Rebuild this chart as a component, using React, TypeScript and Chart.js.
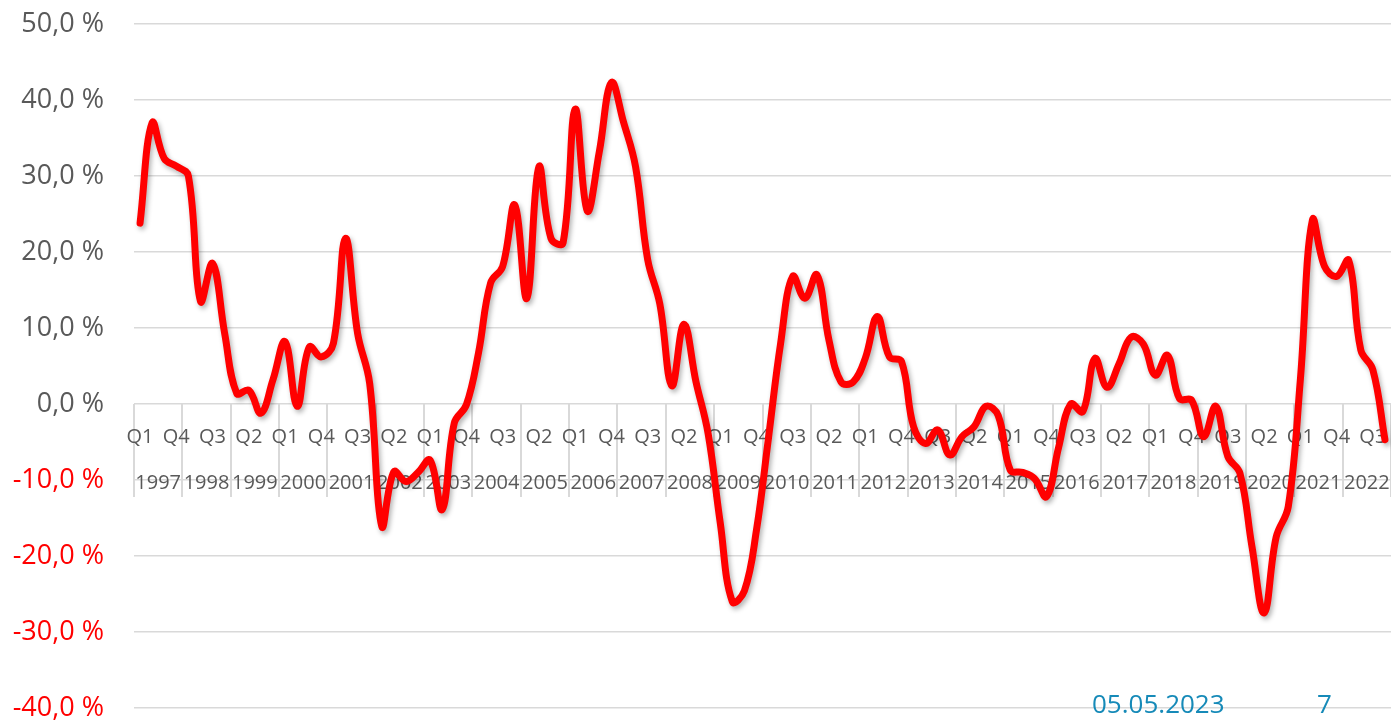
import React, { useEffect, useRef } from 'react';
import { Chart, registerables } from 'chart.js';

Chart.register(...registerables);

const YEARS = ['1997','1998','1999','2000','2001','2002','2003','2004','2005','2006','2007','2008','2009','2010','2011','2012','2013','2014','2015','2016','2017','2018','2019','2020','2021','2022'];
const QUARTERS = ['Q1', 'Q2', 'Q3', 'Q4'];
const CATEGORIES = YEARS.flatMap((y) => QUARTERS.map((q) => `${q} ${y}`));

const VALUES = [
  23.8, 37.0, 32.3, 31.3, 30.0, 13.5, 18.5, 9.3, 1.4, 1.8, -1.2, 3.2,
  8.2, -0.3, 7.5, 6.2, 8.0, 21.8, 9.3, 2.7, -16.1, -8.9, -10.2, -9.0,
  -7.4, -13.9, -2.5, -0.1, 6.7, 15.9, 18.1, 26.2, 13.9, 31.2, 21.8, 21.2,
  38.8, 25.4, 33.2, 42.3, 37.1, 31.2, 19.0, 13.2, 2.4, 10.5, 2.9, -3.9,
  -15.6, -26.0, -24.6, -16.6, -4.4, 8.0, 16.8, 13.9, 17.0, 8.4, 2.9, 2.9,
  6.0, 11.5, 6.2, 5.6, -3.0, -5.2, -3.4, -6.7, -4.3, -3.0, -0.3, -1.5,
  -8.7, -9.0, -9.8, -12.2, -5.7, 0.0, -1.0, 6.0, 2.2, 5.3, 8.8, 7.9,
  3.8, 6.4, 0.7, 0.5, -4.3, -0.3, -6.9, -9.1, -18.8, -27.5, -17.5, -13.5,
  3.2, 24.2, 18.1, 16.8, 18.9, 7.1, 4.5, -4.7,
];

const Y_MIN = -40;
const Y_MAX = 50;
const Y_STEP = 10;
const FOOTER_DATE = '05.05.2023';
const FOOTER_PAGE = '7';

const FONT = '"Open Sans", "Noto Sans", sans-serif';
const GRAY = '#595959';
const GRID = '#d9d9d9';

const fmtPct = (v: number) => `${v.toFixed(1).replace('.', ',')} %`;

const zeroPad = (s: any) => {
  s.paddingTop = 0;
  s.paddingBottom = 0;
  s.paddingLeft = 0;
  s.paddingRight = 0;
};

const shadowPlugin = {
  id: 'lineShadow',
  beforeDatasetDraw(chart: any) {
    const ctx = chart.ctx;
    ctx.save();
    ctx.shadowColor = 'rgba(0,0,0,0.3)';
    ctx.shadowBlur = 5;
    ctx.shadowOffsetX = 2;
    ctx.shadowOffsetY = 3;
  },
  afterDatasetDraw(chart: any) {
    chart.ctx.restore();
  },
};

const footerPlugin = {
  id: 'footer',
  afterDraw(chart: any) {
    const ctx = chart.ctx;
    ctx.save();
    ctx.font = `26px ${FONT}`;
    ctx.fillStyle = '#168ab8';
    ctx.textBaseline = 'alphabetic';
    ctx.textAlign = 'left';
    ctx.fillText(FOOTER_DATE, 1092, 713);
    ctx.fillText(FOOTER_PAGE, 1317, 713);
    ctx.restore();
  },
};

export default function App() {
  const ref = useRef<HTMLCanvasElement | null>(null);

  useEffect(() => {
    if (!ref.current) return;
    const chart = new Chart(ref.current, {
      type: 'line',
      data: {
        labels: CATEGORIES,
        datasets: [
          {
            data: VALUES,
            borderColor: '#ff0000',
            borderWidth: 7,
            pointRadius: 0,
            tension: 0.4,
            fill: false,
            borderCapStyle: 'round',
            borderJoinStyle: 'round',
          },
        ],
      },
      options: {
        animation: false,
        responsive: false,
        layout: { padding: { top: 24, bottom: 13, left: 0, right: 0 } },
        plugins: { legend: { display: false }, tooltip: { enabled: false } },
        scales: {
          y: {
            min: Y_MIN,
            max: Y_MAX,
            afterFit: (s: any) => {
              s.width = 134;
              zeroPad(s);
            },
            ticks: {
              stepSize: Y_STEP,
              padding: 30,
              font: { family: FONT, size: 27 },
              color: (c: any) => (c.tick && c.tick.value < 0 ? '#ff0000' : GRAY),
              callback: (v: any) => fmtPct(Number(v)),
            },
            grid: { color: GRID, lineWidth: 1.5, drawTicks: false },
            border: { display: false },
          },
          x: {
            type: 'category',
            position: { y: 0 } as any,
            offset: true,
            afterFit: (s: any) => {
              s.height = 0;
              zeroPad(s);
            },
            grid: { display: false, drawTicks: false },
            border: { display: false },
            ticks: {
              autoSkip: false,
              maxRotation: 0,
              minRotation: 0,
              padding: 21,
              font: { family: FONT, size: 20 },
              color: GRAY,
              callback: (_v: any, i: number) => (i % 3 === 0 ? QUARTERS[i % 4] : ''),
            },
          },
          x2: {
            type: 'category',
            labels: YEARS,
            position: { y: 0 } as any,
            offset: true,
            afterFit: (s: any) => {
              s.height = 0;
              zeroPad(s);
            },
            grid: {
              offset: true,
              drawOnChartArea: false,
              drawTicks: true,
              tickLength: 93,
              color: GRID,
              lineWidth: 2,
            },
            border: { display: false },
            ticks: {
              autoSkip: false,
              maxRotation: 0,
              minRotation: 0,
              padding: -26,
              font: { family: FONT, size: 20 },
              color: GRAY,
            },
          },
        },
      },
      plugins: [shadowPlugin, footerPlugin],
    } as any);
    return () => chart.destroy();
  }, []);

  return (
    <div style={{ position: 'absolute', left: 0, top: 0, width: 1391, height: 721, background: '#fff' }}>
      <canvas ref={ref} width={1391} height={721} style={{ display: 'block' }} />
    </div>
  );
}
